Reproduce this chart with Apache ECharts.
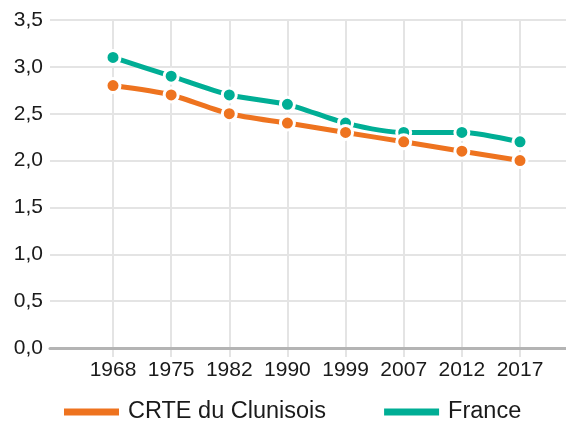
<!DOCTYPE html>
<html>
<head>
<meta charset="utf-8">
<script src="https://cdn.jsdelivr.net/npm/echarts@6/dist/echarts.min.js"></script>
<style>
  html, body { margin: 0; padding: 0; background: #fff; }
  #chart { width: 566px; height: 423px; }
</style>
</head>
<body>
<div id="chart"></div>
<script>
const years = ['1968', '1975', '1982', '1990', '1999', '2007', '2012', '2017'];
const crteValues = [2.8, 2.7, 2.5, 2.4, 2.3, 2.2, 2.1, 2.0];
const franceValues = [3.1, 2.9, 2.7, 2.6, 2.4, 2.3, 2.3, 2.2];

const chart = echarts.init(document.getElementById('chart'));
const font = 'Liberation Sans, Arial, sans-serif';
const gridColor = '#e4e4e4';

const lineSeries = (name, values, color) => ({
  name: name,
  type: 'line',
  xAxisIndex: 1,
  yAxisIndex: 1,
  data: values,
  smooth: 0.25,
  symbol: 'circle',
  symbolSize: 14,
  lineStyle: { width: 5, color: color },
  itemStyle: { color: color, borderColor: '#fff', borderWidth: 3 },
  emphasis: { disabled: true }
});

const option = {
  animation: false,
  textStyle: { fontFamily: font },
  grid: [
    { left: 50, right: 0, top: 20, bottom: 75 },   // background grid for y gridlines
    { left: 113, right: 46, top: 20, bottom: 75 }  // plot grid for the series
  ],
  xAxis: [
    {
      gridIndex: 0, type: 'value', min: 0, max: 1, z: 5,
      axisLine: { show: true, lineStyle: { color: '#b4b4b4', width: 3 } },
      axisTick: { show: false }, axisLabel: { show: false }, splitLine: { show: false }
    },
    {
      gridIndex: 1, type: 'category', data: years, boundaryGap: false,
      axisLine: { show: false },
      axisTick: { show: true, interval: 0, length: 9, lineStyle: { color: gridColor, width: 2 } },
      axisLabel: { interval: 0, hideOverlap: false, color: '#1a1a1a', fontSize: 21, margin: 12, fontFamily: font },
      splitLine: { show: true, interval: 0, lineStyle: { color: gridColor, width: 2 } }
    }
  ],
  yAxis: [
    {
      gridIndex: 0, type: 'value', min: 0, max: 3.5, interval: 0.5,
      axisLine: { show: false }, axisTick: { show: false },
      axisLabel: {
        color: '#1a1a1a', fontSize: 21, margin: 7, fontFamily: font,
        formatter: v => v.toFixed(1).replace('.', ',')
      },
      splitLine: { show: true, lineStyle: { color: gridColor, width: 2 } }
    },
    {
      gridIndex: 1, type: 'value', min: 0, max: 3.5, interval: 0.5, show: false,
      splitLine: { show: false }
    }
  ],
  legend: {
    data: ['CRTE du Clunisois', 'France'],
    left: 62, top: 400, padding: 0,
    icon: 'rect', itemWidth: 57, itemHeight: 9, itemGap: 56,
    textStyle: { fontSize: 23.5, color: '#1a1a1a', fontFamily: font, padding: [0, 0, 0, 3] }
  },
  series: [
    lineSeries('France', franceValues, '#00ae95'),
    lineSeries('CRTE du Clunisois', crteValues, '#ee731f')
  ]
};

chart.setOption(option);
</script>
</body>
</html>
